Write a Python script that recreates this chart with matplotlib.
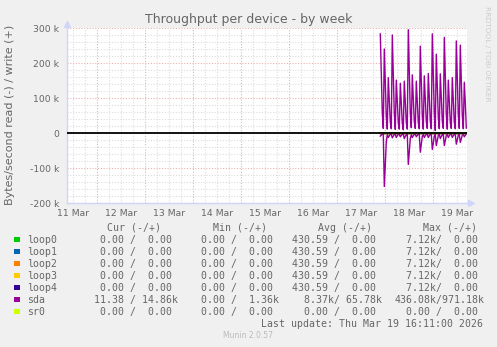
import numpy as np
import matplotlib
matplotlib.use("Agg")
import matplotlib.pyplot as plt
from matplotlib.patches import Rectangle
from matplotlib.ticker import FixedLocator, NullFormatter

W, H = 497, 347

# ---------------- data ----------------
# hours since 11 Mar 00:00 (30-minute samples of sda, starting 17 Mar 21:30)
sample_start_h = 165.5
sample_step_h = 0.5

# sda write (+) in kB/s
sda_write_k = [
    284, 170, 57, 14,   241, 145, 48, 12,   159, 95, 32, 13,   281, 169, 56, 11,
    152, 91, 30, 12,    143, 86, 29, 10,    149, 89, 30, 12,   296, 178, 59, 16,
    167, 100, 33, 14,   149, 89, 30, 13,    249, 149, 50, 12,  164, 98, 33, 14,
    171, 103, 34, 13,   284, 170, 57, 8,    226, 136, 45, 13,  170, 102, 34, 14,
    274, 164, 55, 12,   152, 91, 30, 14,    159, 95, 32, 13,   264, 158, 53, 14,
    252, 151, 50, 13,   146, 88, 14.86,
]
# sda read (-) in kB/s
sda_read_k = [
    -8, -5, -3, -3,     -152, -90, -25, -4, -12, -7, -3, -3,   -13, -8, -3, -3,
    -12, -7, -3, -3,    -10, -6, -3, -3,    -15, -9, -4, -3,   -89, -53, -15, -4,
    -12, -7, -3, -3,    -10, -6, -3, -3,    -54, -32, -9, -3,  -12, -7, -3, -3,
    -12, -7, -3, -3,    -46, -28, -8, -3,   -35, -21, -6, -3,  -15, -9, -4, -3,
    -35, -21, -6, -3,   -12, -7, -3, -3,    -12, -7, -3, -3,   -31, -19, -5, -3,
    -26, -16, -5, -3,   -10, -6, -0.01,
]
loop_values_k = [0.0] * len(sda_write_k)

day_labels = ["11 Mar", "12 Mar", "13 Mar", "14 Mar", "15 Mar",
              "16 Mar", "17 Mar", "18 Mar", "19 Mar"]
y_ticks = [-200, -100, 0, 100, 200, 300]
y_tick_labels = ["-200 k", "-100 k", "0", "100 k", "200 k", "300 k"]

devices = ["loop0", "loop1", "loop2", "loop3", "loop4", "sda", "sr0"]
colors = ["#00CC00", "#0066B3", "#FF8000", "#FFCC00", "#330099", "#990099", "#CCFF00"]
cur_col = [" 0.00 /  0.00 "] * 5 + ["11.38 / 14.86k", " 0.00 /  0.00 "]
min_col = ["0.00 /  0.00 "] * 5 + ["0.00 /  1.36k", "0.00 /  0.00 "]
avg_col = ["430.59 /  0.00 "] * 5 + ["  8.37k/ 65.78k", "  0.00 /  0.00 "]
max_col = ["  7.12k/  0.00 "] * 5 + ["436.08k/971.18k", "  0.00 /  0.00 "]

x_left_h, x_right_h = 8.7, 208.85

# ---------------- figure ----------------
FONT = "#666666"
fig = plt.figure(figsize=(W / 100, H / 100), dpi=100, facecolor="#F0F0F0")

def fx(px):
    return px / W

def fy(py):
    return 1 - py / H

ax_l, ax_r, ax_t, ax_b = 66.7, 467.0, 28.3, 203.3
ax = fig.add_axes([fx(ax_l), fy(ax_b), (ax_r - ax_l) / W, (ax_b - ax_t) / H])
ax.set_facecolor("white")

t = sample_start_h + sample_step_h * np.arange(len(sda_write_k))
for name, col in zip(devices, colors):
    if name == "sda":
        ax.plot(t, np.array(sda_write_k) * 1000, color=col, lw=1.0, zorder=4)
        ax.plot(t, np.array(sda_read_k) * 1000, color=col, lw=1.0, zorder=4)
    else:
        ax.plot(t, np.array(loop_values_k) * 1000, color=col, lw=1.0, zorder=3)

ax.axhline(0, color="black", lw=1.3, zorder=5)

ax.set_xlim(x_left_h, x_right_h)
ax.set_ylim(-200000, 300000)

# x: major grid at midnight, minor every 6h, labels at noon
midnights = [24 * (i + 1) for i in range(8)]
noons = [24 * i + 12 for i in range(len(day_labels))]
six_h = [h for h in np.arange(0, 216, 6) if x_left_h <= h <= x_right_h]
ax.xaxis.set_major_locator(FixedLocator(midnights))
ax.xaxis.set_major_formatter(NullFormatter())
ax.xaxis.set_minor_locator(FixedLocator(six_h))
ax.xaxis.set_minor_formatter(NullFormatter())

# y
ax.yaxis.set_major_locator(FixedLocator([v * 1000 for v in y_ticks]))
ax.set_yticklabels(y_tick_labels)
ax.yaxis.set_minor_locator(FixedLocator([v * 1000 for v in range(-200, 301, 20)]))

ax.grid(which="minor", color="#DDDDDD", lw=0.8, linestyle=(0, (1, 1.5)), zorder=1)
ax.grid(which="major", color="#EAB0B0", lw=0.8, linestyle=(0, (1, 1.5)), zorder=2)

ax.tick_params(axis="both", which="both", length=0, colors=FONT)
ax.tick_params(axis="y", labelsize=6.7, pad=5.3)
for s in ["top", "right"]:
    ax.spines[s].set_visible(False)
for s in ["left", "bottom"]:
    ax.spines[s].set_color("#CFD6F8")
    ax.spines[s].set_linewidth(1.0)

# axis arrows
ax.plot([0], [1 + 4 / 175], marker="^", markersize=4, color="#CFD6F8",
        transform=ax.transAxes, clip_on=False, zorder=6)
ax.plot([1 + 4 / 400], [0], marker=">", markersize=4, color="#CFD6F8",
        transform=ax.transAxes, clip_on=False, zorder=6)

# x tick labels (centered at noon of each day)
for n, lab in zip(noons, day_labels):
    xpx = ax_l + (n - x_left_h) / (x_right_h - x_left_h) * (ax_r - ax_l)
    fig.text(fx(xpx), fy(216.5), lab, ha="center", va="baseline",
             fontsize=6.7, color=FONT)

# titles
fig.text(fx(248.5), fy(23.3), "Throughput per device - by week", ha="center",
         va="baseline", fontsize=9, color=FONT)
fig.text(fx(10), fy(115), "Bytes/second read (-) / write (+)", rotation=90,
         ha="center", va="center", fontsize=8, color=FONT)
fig.text(fx(487), fy(53.5), "RRDTOOL / TOBI OETIKER", rotation=270,
         ha="center", va="center", fontsize=5.4, color="#CCCCCC")

# legend table
MONO = "DejaVu Sans Mono"
LFS = 7.1
hdr_base = 231
for txt, xpx in [("Cur (-/+)", 107.3), ("Min (-/+)", 212.7),
                 ("Avg (-/+)", 318.3), ("Max (-/+)", 422.7)]:
    fig.text(fx(xpx), fy(hdr_base), txt, family=MONO, fontsize=LFS,
             color=FONT, va="baseline", ha="left")

for i, name in enumerate(devices):
    base = 243 + 12 * i
    fig.patches.append(Rectangle((fx(14), fy(base - 1)), 5.5 / W, 5.5 / H,
                                 transform=fig.transFigure, facecolor=colors[i],
                                 edgecolor="none"))
    fig.text(fx(26.7), fy(base), name, family=MONO, fontsize=LFS, color=FONT,
             va="baseline", ha="left")
    fig.text(fx(94), fy(base), cur_col[i], family=MONO, fontsize=LFS,
             color=FONT, va="baseline", ha="left")
    fig.text(fx(201.3), fy(base), min_col[i], family=MONO, fontsize=LFS,
             color=FONT, va="baseline", ha="left")
    fig.text(fx(292.3), fy(base), avg_col[i], family=MONO, fontsize=LFS,
             color=FONT, va="baseline", ha="left")
    fig.text(fx(394.3), fy(base), max_col[i], family=MONO, fontsize=LFS,
             color=FONT, va="baseline", ha="left")

fig.text(fx(482.7), fy(327), "Last update: Thu Mar 19 16:11:00 2026",
         family=MONO, fontsize=LFS, color=FONT, va="baseline", ha="right")
fig.text(fx(248), fy(338.5), "Munin 2.0.57", fontsize=5.5, color="#BBBBBB",
         va="baseline", ha="center")

fig.savefig("out.png", dpi=100, facecolor=fig.get_facecolor())
